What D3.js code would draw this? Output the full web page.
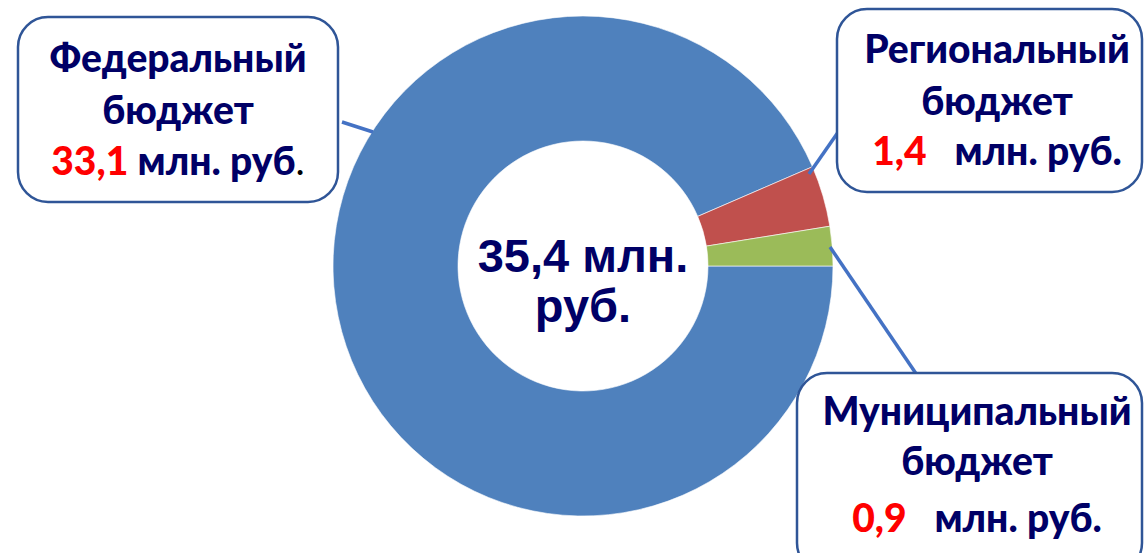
<!DOCTYPE html>
<html><head><meta charset="utf-8">
<script src="https://cdn.jsdelivr.net/npm/d3@7"></script>
<style>html,body{margin:0;padding:0;background:#fff;}svg{display:block;}</style>
</head><body>
<svg id="c" width="1145" height="553"></svg>
<script>
const categories = ["Федеральный бюджет", "Региональный бюджет", "Муниципальный бюджет"];
const values = [33.1, 1.4, 0.9];
const valueLabels = ["33,1", "1,4", "0,9"];
const totalLabel = ["35,4 млн.", "руб."];
const colors = ["#4F81BD", "#C0504D", "#9BBB59"];

const svg = d3.select("#c");
const cx = 583, cy = 266, R = 250, r = 125;
const navy = "#000066";

const pie = d3.pie().sort(null).startAngle(Math.PI/2).endAngle(Math.PI/2 + 2*Math.PI).value(d => d);
const arcs = pie(values);
const arc = d3.arc().innerRadius(r).outerRadius(R);
const g = svg.append("g").attr("transform", `translate(${cx},${cy})`);
g.selectAll("path").data(arcs).join("path")
  .attr("d", arc).attr("fill", (d,i) => colors[i])
  .attr("stroke", "#fff").attr("stroke-width", 0.6);

// center text
const ct = svg.append("text").attr("text-anchor","middle")
  .attr("font-family","'Liberation Sans', Arial, sans-serif").attr("font-weight","bold")
  .attr("font-size", 47).attr("fill", navy);
ct.append("tspan").attr("x", cx).attr("y", 272).text(totalLabel[0]);
ct.append("tspan").attr("x", cx).attr("y", 322).text(totalLabel[1]);

// connectors
const connectors = [
  {from:[342,122], to:[373,132]},
  {from:[841,128], to:[809,174]},
  {from:[830,247], to:[917,375]}
];
svg.selectAll("line.conn").data(connectors).join("line").attr("class","conn")
  .attr("x1", d=>d.from[0]).attr("y1", d=>d.from[1]).attr("x2", d=>d.to[0]).attr("y2", d=>d.to[1])
  .attr("stroke", "#4472C4").attr("stroke-width", 3.5);

// boxes
const boxes = [
  {x:18, y:17, w:320, h:185, tx:178, ys:[72,124,175], gap:""},
  {x:837, y:9, w:305, h:183, tx:997, ys:[63,115,165], gap:"\u00a0\u00a0"},
  {x:797, y:373, w:345, h:200, tx:977, ys:[425,475,532], gap:"\u00a0\u00a0"}
];
boxes.forEach((b, i) => {
  svg.append("rect").attr("x", b.x).attr("y", b.y).attr("width", b.w).attr("height", b.h)
    .attr("rx", 30).attr("ry", 30).attr("fill", "#fff").attr("stroke", "#2F5597").attr("stroke-width", 2.5);
  const words = categories[i].split(" ");
  const t = svg.append("text").attr("text-anchor","middle")
    .attr("font-family","Lato, 'Open Sans', sans-serif").attr("font-weight","900")
    .attr("font-size", 39).attr("fill", navy);
  t.append("tspan").attr("x", b.tx).attr("y", b.ys[0]).text(words[0]);
  t.append("tspan").attr("x", b.tx).attr("y", b.ys[1]).text(words[1]);
  const l3 = t.append("tspan").attr("x", b.tx).attr("y", b.ys[2]);
  l3.append("tspan").attr("fill", "#FF0000").text(valueLabels[i]);
  l3.append("tspan").text(" " + b.gap + "млн. руб" + (i === 0 ? "" : "."));
  if (i === 0) l3.append("tspan").attr("fill", "#000").attr("font-weight", "normal").text(".");
});
</script>
</body></html>
